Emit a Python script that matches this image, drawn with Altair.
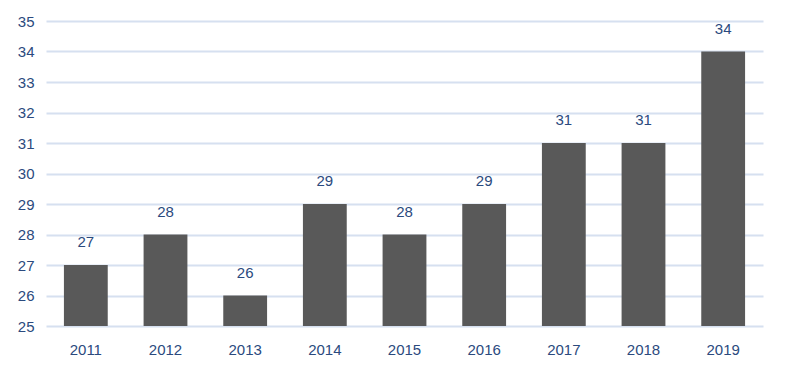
import altair as alt
import pandas as pd

years = ["2011", "2012", "2013", "2014", "2015", "2016", "2017", "2018", "2019"]
values = [27, 28, 26, 29, 28, 29, 31, 31, 34]
y_ticks = [25, 26, 27, 28, 29, 30, 31, 32, 33, 34, 35]
y_base = 25

df = pd.DataFrame({"year": years, "value": values})

TEXT = "#2B4A7E"
GRID = "#D6E0F0"
FONT = "Liberation Sans"
FS = 15

yscale = alt.Scale(domain=[25, 35], zero=False, nice=False)
xscale = alt.Scale(paddingInner=0.45, paddingOuter=0.225)
xaxis = alt.Axis(title=None, labelAngle=0, ticks=False, domain=False,
                 labelPadding=16, labelFontSize=FS, labelColor=TEXT,
                 labelFont=FONT, grid=False)
yaxis = alt.Axis(title=None, values=y_ticks, tickCount=11, ticks=False,
                 domain=False, labelOverlap=False,
                 labelPadding=12, labelFontSize=FS, labelColor=TEXT,
                 labelFont=FONT, gridColor=GRID, gridWidth=2)

base = alt.Chart(df)

bars = base.mark_bar(color="#595959").encode(
    x=alt.X("year:N", sort=years, scale=xscale, axis=xaxis),
    y=alt.Y("value:Q", scale=yscale, axis=yaxis),
    y2=alt.datum(y_base),
)

labels = base.mark_text(baseline="middle", dy=-23, fontSize=FS, color=TEXT,
                        font=FONT).encode(
    x=alt.X("year:N", sort=years, scale=xscale, axis=xaxis),
    y=alt.Y("value:Q", scale=yscale, axis=yaxis),
    text="value:Q",
)

chart = (bars + labels).properties(
    width=717,
    height=305,
    autosize=alt.AutoSizeParams(type="none"),
    padding={"left": 38, "top": 13, "right": 15, "bottom": 44},
    background="white",
).configure_view(stroke=None)

chart.save("out.html", embed_options={"renderer": "svg", "actions": False})
